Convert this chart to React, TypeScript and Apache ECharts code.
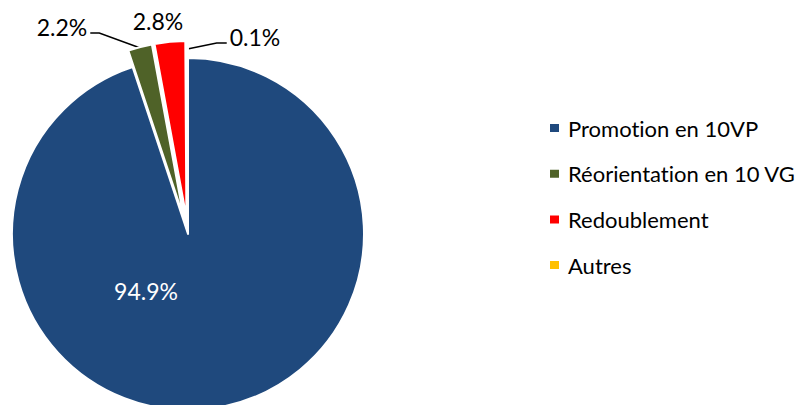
import React, { useEffect, useRef } from 'react';
import * as echarts from 'echarts';

const categories = ['Promotion en 10VP', 'Réorientation en 10 VG', 'Redoublement', 'Autres'];
const values = [94.9, 2.2, 2.8, 0.1];
const colors = ['#1F497D', '#4F6228', '#FF0000', '#FFC000'];
const exploded = [false, true, true, true];

const FONT = 'Lato, "Open Sans", sans-serif';
const EXPLODE = 17;

export default function App() {
  const ref = useRef<HTMLDivElement>(null);
  useEffect(() => {
    const chart = echarts.init(ref.current!, null, { renderer: 'svg' });
    const labelPos: number[][] = [
      [146, 291],
      [62, 27],
      [158, 21],
      [255, 37],
    ];
    const common = {
      type: 'pie',
      center: [188, 234],
      radius: 176,
      startAngle: 90,
      clockwise: true,
      silent: true,
      avoidLabelOverlap: false,
      minShowLabelAngle: 0,
      emphasis: { disabled: true },
    };
    chart.setOption({
      animation: false,
      backgroundColor: '#ffffff',
      legend: {
        orient: 'vertical',
        left: 548,
        top: 117,
        padding: 0,
        itemWidth: 11,
        itemHeight: 10,
        itemGap: 23.7,
        icon: 'rect',
        selectedMode: false,
        data: categories.map((name, i) => ({ name, itemStyle: { color: colors[i] } })),
        textStyle: {
          fontFamily: FONT,
          fontSize: 22,
          lineHeight: 22,
          color: '#000',
          padding: [0, 0, 0, 3],
        },
      },
      series: [
        {
          ...common,
          name: 'slices',
          selectedMode: 'multiple',
          selectedOffset: EXPLODE,
          itemStyle: { borderColor: '#ffffff', borderWidth: 2 },
          label: { show: false },
          labelLine: { show: false },
          data: categories.map((name, i) => ({
            name,
            value: values[i],
            selected: exploded[i],
            itemStyle: { color: colors[i] },
          })),
        },
        {
          ...common,
          name: 'labels',
          itemStyle: { color: 'rgba(0,0,0,0)', borderWidth: 0 },
          label: {
            show: true,
            position: 'outside',
            formatter: (p: any) => `${Number(p.value).toFixed(1)}%`,
            fontFamily: FONT,
            fontSize: 23,
            color: '#000',
          },
          labelLine: {
            show: true,
            length: 10,
            length2: 10,
            lineStyle: { color: '#000', width: 1.5 },
          },
          labelLayout: (params: any) => {
            const i = params.dataIndex;
            const [x, y] = labelPos[i];
            const w = params.labelRect.width;
            const res: any = { x, y, align: 'center', verticalAlign: 'middle' };
            const pts = params.labelLinePoints;
            if (pts && (i === 1 || i === 3)) {
              const p0 = pts[0];
              const p1 = pts[1];
              const dx = p1[0] - p0[0];
              const dy = p1[1] - p0[1];
              const len = Math.sqrt(dx * dx + dy * dy) || 1;
              if (i === 1) {
                const anchor = [p0[0] + (dx / len) * (EXPLODE - 1), p0[1] + (dy / len) * (EXPLODE - 1)];
                const end = [x + w / 2 + 3, y + 6];
                const elbow = [end[0] + 9, end[1]];
                res.labelLinePoints = [anchor, elbow, end];
              } else {
                const anchor = [p0[0] + (dx / len) * (EXPLODE - 8), p0[1] + (dy / len) * (EXPLODE - 8)];
                const end = [x - w / 2 - 3, y + 6];
                const elbow = [end[0] - 10, end[1]];
                res.labelLinePoints = [anchor, elbow, end];
              }
            }
            return res;
          },
          data: categories.map((name, i) => ({
            name,
            value: values[i],
            label: i === 0 ? { position: 'inside', color: '#ffffff' } : undefined,
            labelLine: i === 2 ? { show: false } : undefined,
          })),
        },
      ],
    });
    return () => chart.dispose();
  }, []);
  return (
    <div
      ref={ref}
      style={{
        position: 'fixed',
        left: 0,
        top: 0,
        width: 803,
        height: 405,
        fontVariantLigatures: 'none',
        fontFeatureSettings: '"liga" 0, "clig" 0',
      }}
    />
  );
}
